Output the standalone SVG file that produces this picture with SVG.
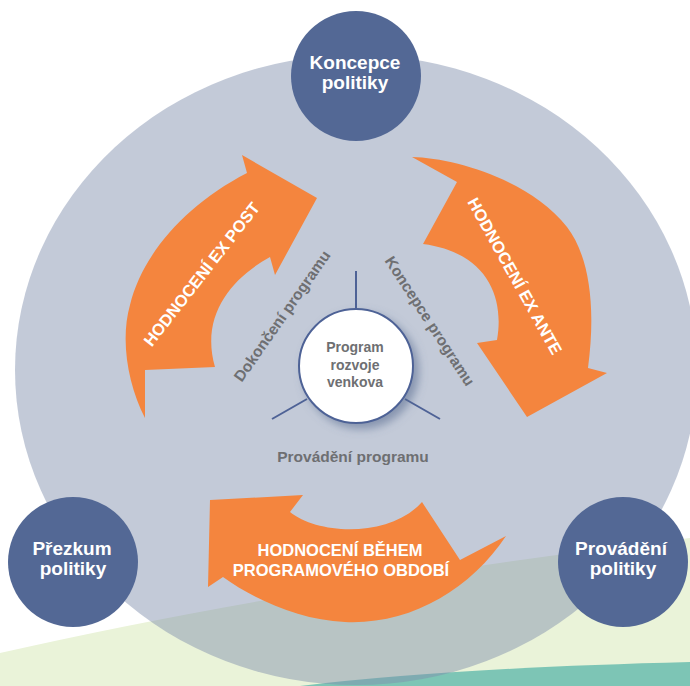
<svg xmlns="http://www.w3.org/2000/svg" width="690" height="686" viewBox="0 0 690 686">
  <defs>
    <style>
      .node { fill: #536895; }
      .nodeText { font-family: "Liberation Sans", Arial, sans-serif; font-weight: bold; font-size: 19px; fill: #ffffff; text-anchor: middle; }
      .arrow { fill: #F4853E; }
      .arrowText { font-family: "Liberation Sans", Arial, sans-serif; font-weight: bold; font-size: 16.5px; fill: #ffffff; text-anchor: middle; }
      .label { font-family: "Liberation Sans", Arial, sans-serif; font-weight: bold; font-size: 15.5px; fill: #6E6F72; text-anchor: middle; }
      .centerText { font-family: "Liberation Sans", Arial, sans-serif; font-weight: bold; font-size: 14px; fill: #6E6F72; text-anchor: middle; }
      .spoke { stroke: #4E6296; stroke-width: 2; fill: none; }
    </style>
    <filter id="shadow" x="-30%" y="-30%" width="170%" height="170%">
      <feDropShadow dx="5" dy="5" stdDeviation="4" flood-color="#56698F" flood-opacity="0.55"/>
    </filter>
  </defs>

  <rect x="0" y="0" width="690" height="686" fill="#ffffff"/>

  <g id="background">
    <path d="M0,653 Q300,585 690,538 L690,686 L0,686 Z" fill="#EAF3D9"/>
    <path d="M300,686 Q450,668 690,662 L690,686 Z" fill="#7DC5B5"/>
    <ellipse cx="356" cy="370" rx="341" ry="315" fill="#7F8EAD" fill-opacity="0.47"/>
  </g>

  <g id="arrow-ex-post">
    <path class="arrow" d="M145,418 C128,385 120,340 130,305 C142,255 185,205 247,173 L242,155 L317,198 L275,275 L270,257 C232,278 200,315 215,367 L145,370 Z"/>
    <text class="arrowText" x="206.2" y="277.7" transform="rotate(-52 206.2 277.7)">HODNOCENÍ EX POST</text>
  </g>

  <g id="arrow-ex-ante">
    <path class="arrow" d="M412,157 C455,158 530,180 567,227 C587,253 597,300 588,368 L607,373 L527,417 L477,343 L497,340 C505,295 485,252 423,244 L457,182 Z"/>
    <text class="arrowText" x="509.8" y="278.9" transform="rotate(61 509.8 278.9)">HODNOCENÍ EX ANTE</text>
  </g>

  <g id="arrow-behem">
    <path class="arrow" d="M506,536 C470,590 410,625 345,622 C300,620 255,600 223,577 L208,587 L210,500 L303,495 L290,512 C318,535 390,538 422,502 L460,560 Z"/>
    <text class="arrowText" x="340" y="556">HODNOCENÍ BĚHEM</text>
    <text class="arrowText" x="341" y="576">PROGRAMOVÉHO OBDOBÍ</text>
  </g>

  <g id="connectors">
    <line class="spoke" x1="356" y1="271" x2="356" y2="309"/>
    <line class="spoke" x1="272" y1="419" x2="307" y2="399"/>
    <line class="spoke" x1="440" y1="419" x2="405" y2="399"/>
  </g>

  <g id="label-dokonceni">
    <text class="label" x="286.5" y="319" transform="rotate(-55 286.5 319)">Dokončení programu</text>
  </g>
  <g id="label-koncepce-programu">
    <text class="label" x="425.4" y="324" transform="rotate(57 425.4 324)">Koncepce programu</text>
  </g>
  <g id="label-provadeni-programu">
    <text class="label" x="353" y="462">Provádění programu</text>
  </g>

  <g id="center-program">
    <circle cx="356" cy="366" r="57" fill="#ffffff" stroke="#4E6296" stroke-width="2" filter="url(#shadow)"/>
    <text class="centerText" x="355" y="352">Program</text>
    <text class="centerText" x="355" y="369.5">rozvoje</text>
    <text class="centerText" x="355" y="387">venkova</text>
  </g>

  <g id="node-koncepce-politiky">
    <circle class="node" cx="356" cy="76" r="65"/>
    <text class="nodeText" x="355" y="68.5">Koncepce</text>
    <text class="nodeText" x="355" y="89">politiky</text>
  </g>

  <g id="node-prezkum-politiky">
    <circle class="node" cx="73" cy="562" r="65"/>
    <text class="nodeText" x="72" y="555">Přezkum</text>
    <text class="nodeText" x="73" y="575">politiky</text>
  </g>

  <g id="node-provadeni-politiky">
    <circle class="node" cx="623" cy="562" r="65"/>
    <text class="nodeText" x="621" y="555">Provádění</text>
    <text class="nodeText" x="623" y="575">politiky</text>
  </g>
</svg>
